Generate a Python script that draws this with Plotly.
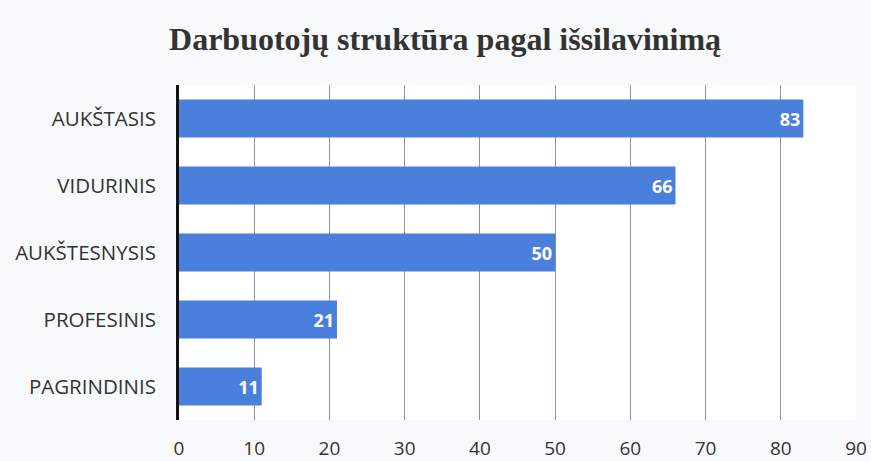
import plotly.graph_objects as go

categories = ["AUKŠTASIS", "VIDURINIS", "AUKŠTESNYSIS", "PROFESINIS", "PAGRINDINIS"]
values = [83, 66, 50, 21, 11]
x_ticks = [0, 10, 20, 30, 40, 50, 60, 70, 80, 90]

fig = go.Figure(go.Bar(
    y=categories,
    x=values,
    orientation="h",
    marker=dict(color="#4a7fdb", line=dict(width=0)),
    width=0.57,
    text=[str(v) for v in values],
    textposition="inside",
    insidetextanchor="end",
    textfont=dict(family="Open Sans", size=18, color="white", weight="bold"),
    cliponaxis=False,
))

fig.update_layout(
    width=871, height=461,
    margin=dict(l=179, r=15, t=85, b=41),
    paper_bgcolor="#f8f9fb",
    plot_bgcolor="#ffffff",
    showlegend=False,
    title=dict(
        text="<b>Darbuotojų struktūra pagal išsilavinimą</b>",
        x=0.511, xanchor="center", y=0.915, yanchor="middle",
        font=dict(family="Liberation Serif", size=32, color="#333333"),
        automargin=False,
    ),
    xaxis=dict(
        range=[0, 90],
        tickvals=x_ticks,
        ticktext=[str(t) for t in x_ticks],
        showgrid=True,
        gridcolor="#8a92a6",
        gridwidth=1,
        zeroline=False,
        showline=False,
        ticks="",
        ticklabelstandoff=15,
        automargin=False,
        tickfont=dict(family="Open Sans", size=19, color="#333333"),
    ),
    yaxis=dict(
        categoryorder="array",
        categoryarray=categories[::-1],
        showgrid=False,
        showline=True,
        linecolor="#111111",
        linewidth=3,
        ticks="",
        ticklabelstandoff=16,
        automargin=False,
        tickfont=dict(family="Open Sans", size=20.5, color="#333333"),
    ),
)

fig.write_html(
    "out.html",
    config={"displayModeBar": False},
    post_script="document.body.style.margin='0';document.body.style.overflow='hidden';",
)
